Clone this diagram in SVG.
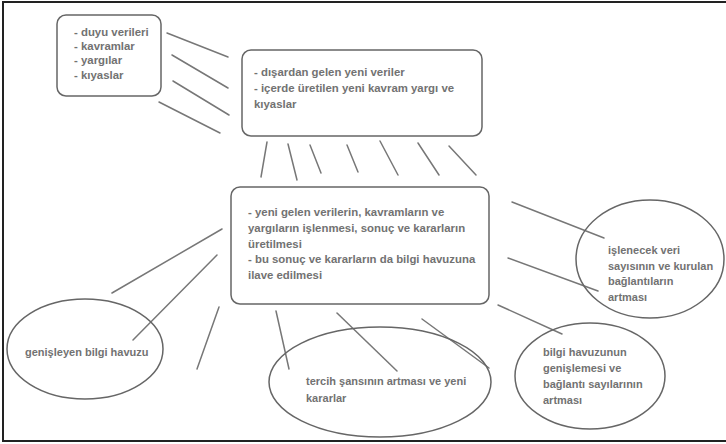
<svg xmlns="http://www.w3.org/2000/svg" width="726" height="444" viewBox="0 0 726 444">
<style>
.t{font-family:"Liberation Sans",Arial,sans-serif;font-weight:bold;font-size:11px;fill:#727272}
.b{font-size:11.4px}
.n{fill:none;stroke:#666;stroke-width:1.5}
.c line{stroke:#777;stroke-width:1.5;stroke-linecap:round}
</style>
<rect x="0" y="0" width="726" height="444" fill="#fff"/>
<rect x="3" y="2" width="740" height="439" fill="none" stroke="#222" stroke-width="2"/>
<g id="connectors" class="c">
<line x1="167" y1="33" x2="228" y2="57"/>
<line x1="172" y1="55" x2="228" y2="88"/>
<line x1="173" y1="81" x2="229" y2="115"/>
<line x1="159" y1="102" x2="220" y2="133"/>
<line x1="267" y1="142" x2="261" y2="177"/>
<line x1="288" y1="144" x2="297" y2="180"/>
<line x1="310" y1="145" x2="321" y2="173"/>
<line x1="347" y1="145" x2="358" y2="172"/>
<line x1="380" y1="141" x2="398" y2="175"/>
<line x1="418" y1="143" x2="439" y2="175"/>
<line x1="449" y1="146" x2="476" y2="175"/>
<line x1="512" y1="202" x2="604" y2="238"/>
<line x1="508" y1="258" x2="598" y2="291"/>
<line x1="498" y1="305" x2="562" y2="334"/>
<line x1="112" y1="293" x2="222" y2="229"/>
<line x1="133" y1="340" x2="217" y2="255"/>
<line x1="197" y1="369" x2="219" y2="307"/>
<line x1="276" y1="311" x2="289" y2="369"/>
<line x1="337" y1="313" x2="397" y2="371"/>
<line x1="422" y1="319" x2="489" y2="368"/>
</g>
<g id="node-sources">
<rect class="n" x="57" y="15" width="104" height="81" rx="9"/>
<text class="t b" x="74" y="36">- duyu verileri</text>
<text class="t b" x="74" y="50">- kavramlar</text>
<text class="t b" x="74" y="64">- yargılar</text>
<text class="t b" x="74" y="79">- kıyaslar</text>
</g>
<g id="node-inputs">
<rect class="n" x="242" y="50" width="240" height="86" rx="9"/>
<text class="t b" x="254" y="76">- dışardan gelen yeni veriler</text>
<text class="t b" x="254" y="92">- içerde üretilen yeni kavram yargı ve</text>
<text class="t b" x="254" y="108">kıyaslar</text>
</g>
<g id="node-process">
<rect class="n" x="231" y="187" width="258" height="117" rx="9"/>
<text class="t b" x="248" y="216">- yeni gelen verilerin, kavramların ve</text>
<text class="t b" x="248" y="232">yargıların işlenmesi, sonuç ve kararların</text>
<text class="t b" x="248" y="248">üretilmesi</text>
<text class="t b" x="248" y="263">- bu sonuç ve kararların da bilgi havuzuna</text>
<text class="t b" x="248" y="279">ilave edilmesi</text>
</g>
<g id="node-data-count">
<ellipse class="n" cx="650" cy="259" rx="74" ry="59"/>
<text class="t" x="608" y="254">işlenecek veri</text>
<text class="t" x="608" y="270">sayısının ve kurulan</text>
<text class="t" x="608" y="285">bağlantıların</text>
<text class="t" x="608" y="301">artması</text>
</g>
<g id="node-pool-growth">
<ellipse class="n" cx="590" cy="376" rx="75" ry="53"/>
<text class="t" x="543" y="356">bilgi havuzunun</text>
<text class="t" x="543" y="372">genişlemesi ve</text>
<text class="t" x="543" y="388">bağlantı sayılarının</text>
<text class="t" x="543" y="404">artması</text>
</g>
<g id="node-choice">
<ellipse class="n" cx="380" cy="382" rx="111" ry="55"/>
<text class="t" x="306" y="385">tercih şansının artması ve yeni</text>
<text class="t" x="306" y="402">kararlar</text>
</g>
<g id="node-pool">
<ellipse class="n" cx="85" cy="349" rx="78" ry="50"/>
<text class="t" x="25" y="356">genişleyen bilgi havuzu</text>
</g>
</svg>
